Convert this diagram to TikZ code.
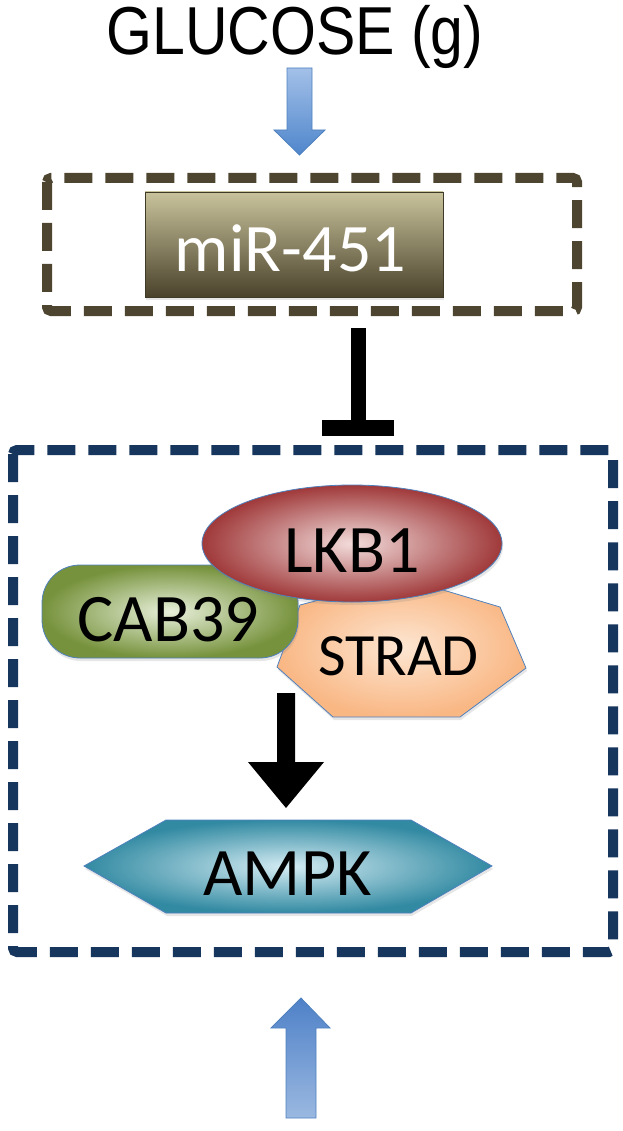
\documentclass[tikz,border=0pt]{standalone}
\usepackage{fontspec}
\setmainfont{Carlito}
\newfontfamily\arialfont{Liberation Sans}
\usetikzlibrary{shapes.geometric,shadows}
\definecolor{olive}{HTML}{4D4530}
\definecolor{navy}{HTML}{17365D}
\definecolor{arrowedge}{HTML}{4F81BD}
\definecolor{arrAtop}{HTML}{A3C0E8}
\definecolor{arrAbot}{HTML}{4F86CC}
\definecolor{arrBtop}{HTML}{4F81C8}
\definecolor{arrBbot}{HTML}{9AB8E0}
\definecolor{mirEdge}{HTML}{3F3A28}
\definecolor{mirTop}{HTML}{C9C39C}
\definecolor{mirBot}{HTML}{4A422B}
\definecolor{stradIn}{HTML}{FDE6D2}
\definecolor{stradOut}{HTML}{F9B784}
\definecolor{cabIn}{HTML}{E8F0DA}
\definecolor{cabOut}{HTML}{76923C}
\definecolor{lkbIn}{HTML}{F2DCDB}
\definecolor{lkbOut}{HTML}{A0393A}
\definecolor{ampkIn}{HTML}{D4ECF3}
\definecolor{ampkOut}{HTML}{328AA2}
\tikzset{
  dashbox/.style={line width=10pt,dash pattern=on 28pt off 13pt,rounded corners=4pt},
  lbl/.style={font=\fontsize{68}{70}\selectfont,text=black,inner sep=0pt,anchor=base},
  blockarrow/.style={draw=arrowedge,line width=0.8pt},
  shp/.style={draw=arrowedge,line width=0.8pt,drop shadow={opacity=0.2,shadow xshift=1pt,shadow yshift=-3pt}}
}
\begin{document}
\begin{tikzpicture}[x=1pt,y=-1pt]
\useasboundingbox (0,0) rectangle (622,1131);
% title
\node[font=\arialfont\fontsize{59}{60}\selectfont,anchor=base,inner sep=0pt] (glucose) at (295,55) {\scalebox{1}[1.15]{GLUCOSE (g)}};
% top blue arrow
\coordinate (a1tip) at (299.5,155);
\path[blockarrow,top color=arrAtop,bottom color=arrAbot]
  (287,68) -- (312,68) -- (312,130) -- (325,130) -- (a1tip) -- (274,130) -- (287,130) -- cycle;
% miR box
\draw[dashbox,draw=olive] (47,178) rectangle (577,311);
\node[shp,draw=mirEdge,rectangle,minimum width=298pt,minimum height=105pt,top color=mirTop,bottom color=mirBot,inner sep=0pt] (mir) at (294,244.5) {};
\node[lbl,text=white] (mirtext) at (290.5,272) {miR-451};
% inhibition
\coordinate (inhtop) at (358.5,328);
\coordinate (inhbar) at (358.5,428);
\draw[line width=15pt,line cap=butt] (inhtop) -- (inhbar);
\draw[line width=16pt] (322,428) -- (394,428);
% blue box
\draw[dashbox,draw=navy] (13,450) rectangle (613,952);
% STRAD
\path[shp,inner color=stradIn,outer color=stradOut]
  (403,578) -- (500,607) -- (526,668) -- (460,717) -- (333,717) -- (277,667) -- (300,605) -- cycle;
\node[lbl,font=\fontsize{60}{62}\selectfont] (strad) at (398.5,675) {STRAD};
% CAB39
\node[shp,rectangle,rounded corners=38pt,minimum width=256pt,minimum height=93pt,inner color=cabIn,outer color=cabOut,inner sep=0pt] (cab) at (170,611.5) {};
\node[lbl] (cabtext) at (168.5,641) {CAB39};
% LKB1
\node[shp,ellipse,minimum width=300pt,minimum height=117pt,inner color=lkbIn,outer color=lkbOut,inner sep=0pt] (lkb) at (352,543.5) {};
\node[lbl] (lkbtext) at (352,572) {LKB1};
% black arrow
\fill (277,693) -- (295,693) -- (295,762) -- (324,762) -- (286,808) -- (248,762) -- (277,762) -- cycle;
% AMPK
\path[shp,inner color=ampkIn,outer color=ampkOut]
  (84,866) -- (166,820) -- (411,820) -- (492,866) -- (411,913) -- (166,913) -- cycle;
\node[lbl] (ampk) at (287.5,895) {AMPK};
% bottom blue arrow
\path[blockarrow,top color=arrBtop,bottom color=arrBbot]
  (301,998) -- (330,1028) -- (316,1028) -- (316,1118) -- (286,1118) -- (286,1028) -- (271,1028) -- cycle;
\end{tikzpicture}
\end{document}
